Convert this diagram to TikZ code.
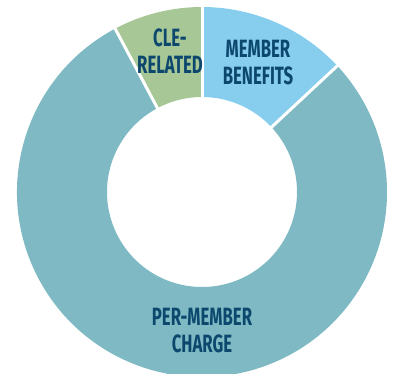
\documentclass[tikz,border=0pt]{standalone}
\usepackage{fontspec}
\setmainfont{Fira Sans}[FakeStretch=0.67]
\definecolor{tealc}{RGB}{127,186,196}
\definecolor{bluec}{RGB}{135,205,238}
\definecolor{greenc}{RGB}{167,200,150}
\definecolor{txtc}{RGB}{12,72,110}
\tikzset{
  lbl/.style={text=txtc, font=\fontsize{25}{27}\selectfont\bfseries, align=center, inner sep=0pt},
  sep/.style={white, line width=3pt}
}
\begin{document}
\begin{tikzpicture}[x=1pt,y=1pt]
\useasboundingbox (0,0) rectangle (395,373);
\coordinate (c) at (202,181);
\def\Ro{185}\def\Ri{95}
% sectors
\fill[bluec] ([shift={(43:\Ro)}]c) arc[start angle=43,end angle=90,radius=\Ro] -- ([shift={(90:\Ri)}]c) arc[start angle=90,end angle=43,radius=\Ri] -- cycle;
\fill[greenc] ([shift={(90:\Ro)}]c) arc[start angle=90,end angle=118,radius=\Ro] -- ([shift={(118:\Ri)}]c) arc[start angle=118,end angle=90,radius=\Ri] -- cycle;
\fill[tealc] ([shift={(118:\Ro)}]c) arc[start angle=118,end angle=403,radius=\Ro] -- ([shift={(403:\Ri)}]c) arc[start angle=403,end angle=118,radius=\Ri] -- cycle;
% separators
\coordinate (s1) at ([shift={(90:\Ro+3)}]c);
\coordinate (s2) at ([shift={(43:\Ro+3)}]c);
\coordinate (s3) at ([shift={(118:\Ro+3)}]c);
\draw[sep] (c) -- (s1);
\draw[sep] (c) -- (s2);
\draw[sep] (c) -- (s3);
% labels
\node[lbl] (mb) at (258,310) {MEMBER\\BENEFITS};
\node[lbl] (cle) at (170,322) {CLE-\\RELATED};
\node[lbl] (pmc) at (202,42) {PER-MEMBER\\CHARGE};
\end{tikzpicture}
\end{document}
